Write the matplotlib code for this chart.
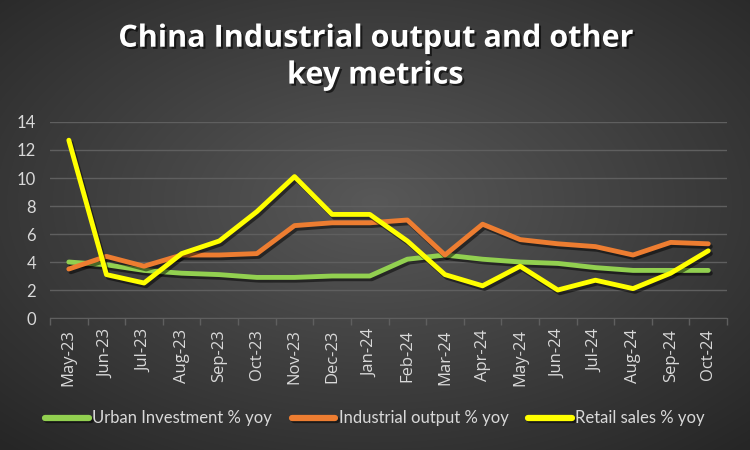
import numpy as np
import matplotlib
matplotlib.use("Agg")
import matplotlib.pyplot as plt
import matplotlib.patheffects as pe

# data
months = ["May-23", "Jun-23", "Jul-23", "Aug-23", "Sep-23", "Oct-23", "Nov-23", "Dec-23", "Jan-24",
          "Feb-24", "Mar-24", "Apr-24", "May-24", "Jun-24", "Jul-24", "Aug-24", "Sep-24", "Oct-24"]
urban_investment = [4.0, 3.8, 3.4, 3.2, 3.1, 2.9, 2.9, 3.0, 3.0,
                    4.2, 4.5, 4.2, 4.0, 3.9, 3.6, 3.4, 3.4, 3.4]
industrial_output = [3.5, 4.4, 3.7, 4.5, 4.5, 4.6, 6.6, 6.8, 6.8,
                     7.0, 4.5, 6.7, 5.6, 5.3, 5.1, 4.5, 5.4, 5.3]
retail_sales = [12.7, 3.1, 2.5, 4.6, 5.5, 7.6, 10.1, 7.4, 7.4,
                5.5, 3.1, 2.3, 3.7, 2.0, 2.7, 2.1, 3.2, 4.8]

plt.rcParams["font.family"] = ["Lato", "DejaVu Sans"]

fig = plt.figure(figsize=(7.5, 4.5), dpi=100)

# radial gradient background
bg = fig.add_axes([0, 0, 1, 1])
yy, xx = np.mgrid[-1:1:450j, -1:1:750j]
r = np.sqrt(xx ** 2 + (yy + 0.1) ** 2) / np.sqrt(2)
bg.imshow(r, cmap=matplotlib.colors.LinearSegmentedColormap.from_list("bg", ["#585858", "#262626"]),
          aspect="auto", extent=[0, 1, 0, 1])
bg.axis("off")

ax = fig.add_axes([0.0667, 0.2933, 0.9027, 0.4356])
ax.patch.set_alpha(0)

x = np.arange(len(months))
shadow = [pe.SimpleLineShadow(offset=(1.5, -2), shadow_color="black", alpha=0.5), pe.Normal()]
ax.plot(x, urban_investment, color="#92d050", lw=3.5, solid_capstyle="round", solid_joinstyle="round",
        label="Urban Investment % yoy", path_effects=shadow)
ax.plot(x, industrial_output, color="#ed7d31", lw=3.5, solid_capstyle="round", solid_joinstyle="round",
        label="Industrial output % yoy", path_effects=shadow)
ax.plot(x, retail_sales, color="#ffff00", lw=3.5, solid_capstyle="round", solid_joinstyle="round",
        label="Retail sales % yoy", path_effects=shadow)

ax.set_xlim(-0.5, len(months) - 0.5)
ax.set_ylim(0, 14)
ax.set_yticks(range(0, 15, 2))
ax.set_xticks(x)
ax.set_xticklabels(months, rotation=90, fontsize=12, color="#d9d9d9", family=["Open Sans", "DejaVu Sans"])
ax.set_xticks(np.arange(-0.5, len(months), 1), minor=True)
ax.tick_params(axis="x", which="major", length=0, pad=8)
ax.tick_params(axis="x", which="minor", length=5, color="#5f5f5f", width=1)
ax.tick_params(axis="y", length=0, labelsize=12, labelcolor="#d9d9d9", pad=10)
ax.grid(axis="y", color="#5f5f5f", lw=1)
ax.set_axisbelow(True)
for s in ["top", "right", "left"]:
    ax.spines[s].set_visible(False)
ax.spines["bottom"].set_color("#5f5f5f")

fig.text(0.5, 0.873, "China Industrial output and other\nkey metrics", ha="center", va="center",
         fontsize=22, fontweight="bold", color="white", linespacing=1.3,
         family=["Open Sans", "DejaVu Sans"],
         path_effects=[pe.withSimplePatchShadow(offset=(1.5, -1.5), shadow_rgbFace="black", alpha=0.6)])

leg = fig.legend(loc="center", bbox_to_anchor=(0.5, 0.07), ncol=3, frameon=False, fontsize=12,
                 handlelength=2.6, handletextpad=0.2, columnspacing=1.2, labelcolor="#d9d9d9")
for h in leg.get_lines():
    h.set_linewidth(4.5)
    h.set_solid_capstyle("round")

fig.savefig("out.png", dpi=100)
